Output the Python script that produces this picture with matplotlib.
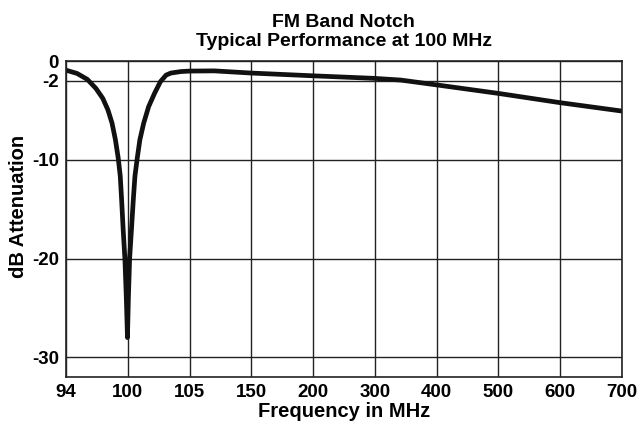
import numpy as np
import matplotlib.pyplot as plt

plt.rcParams["font.family"] = ["Liberation Sans", "DejaVu Sans"]
plt.rcParams["font.weight"] = "bold"

# tick frequencies are equally spaced on the printed chart
TICK_MHZ = [94, 100, 105, 150, 200, 300, 400, 500, 600, 700]
Y_TICKS = [0, -2, -10, -20, -30]

# response
FREQ = [94, 95.07, 96.07, 96.9, 97.57, 98.07, 98.47, 98.8, 99.07, 99.27,
        99.4, 99.55, 99.72, 99.86, 99.97,
        100.05, 100.15, 100.3, 100.45, 100.58, 100.77, 100.98, 101.29,
        101.69, 102.17, 102.64, 103.1, 103.49, 104.3, 105,
        123, 150, 200, 300, 342, 400, 500, 600, 700]
ATTEN = [-0.91, -1.24, -1.84, -2.75, -3.76, -4.93, -6.27, -7.96, -9.8, -11.65,
         -14.0, -17.0, -20.0, -24.0, -28.0,
         -24.0, -20.0, -17.0, -14.0, -11.65, -9.8, -7.96, -6.27,
         -4.6, -3.25, -2.08, -1.41, -1.2, -1.05, -1.0,
         -0.98, -1.2, -1.48, -1.74, -1.91, -2.4, -3.26, -4.2, -5.05]


def fwd(x):
    return np.interp(x, TICK_MHZ, np.arange(len(TICK_MHZ)))


def inv(x):
    return np.interp(x, np.arange(len(TICK_MHZ)), TICK_MHZ)


def main():
    fig = plt.figure(figsize=(6.41, 4.28), dpi=100)
    ax = fig.add_axes([0.103, 0.119, 0.867, 0.738])
    ax.set_xscale("function", functions=(fwd, inv))

    ax.plot(FREQ, ATTEN, color="#111111", linewidth=3.4,
            solid_joinstyle="round", solid_capstyle="round")

    ax.set_xlim(94, 700)
    ax.set_ylim(-32, 0)
    ax.set_xticks(TICK_MHZ)
    ax.set_xticklabels([str(t) for t in TICK_MHZ])
    ax.set_yticks(Y_TICKS)
    ax.set_yticklabels([str(t) for t in Y_TICKS])
    ax.xaxis.set_minor_locator(plt.NullLocator())
    ax.tick_params(length=0, labelsize=13.5, pad=5)
    ax.grid(True, color="#222222", linewidth=1.0)
    for s in ax.spines.values():
        s.set_color("#222222")
        s.set_linewidth(1.2)

    ax.set_xlabel("Frequency in MHz", fontsize=14.5, fontweight="bold", labelpad=1)
    ax.set_ylabel("dB Attenuation", fontsize=14.5, fontweight="bold")
    ax.yaxis.set_label_coords(-0.068, 0.54)
    ax.set_title("FM Band Notch\nTypical Performance at 100 MHz",
                 fontsize=14, fontweight="bold", pad=11, linespacing=1.15)

    fig.savefig("out.png", dpi=100)


if __name__ == "__main__":
    main()
